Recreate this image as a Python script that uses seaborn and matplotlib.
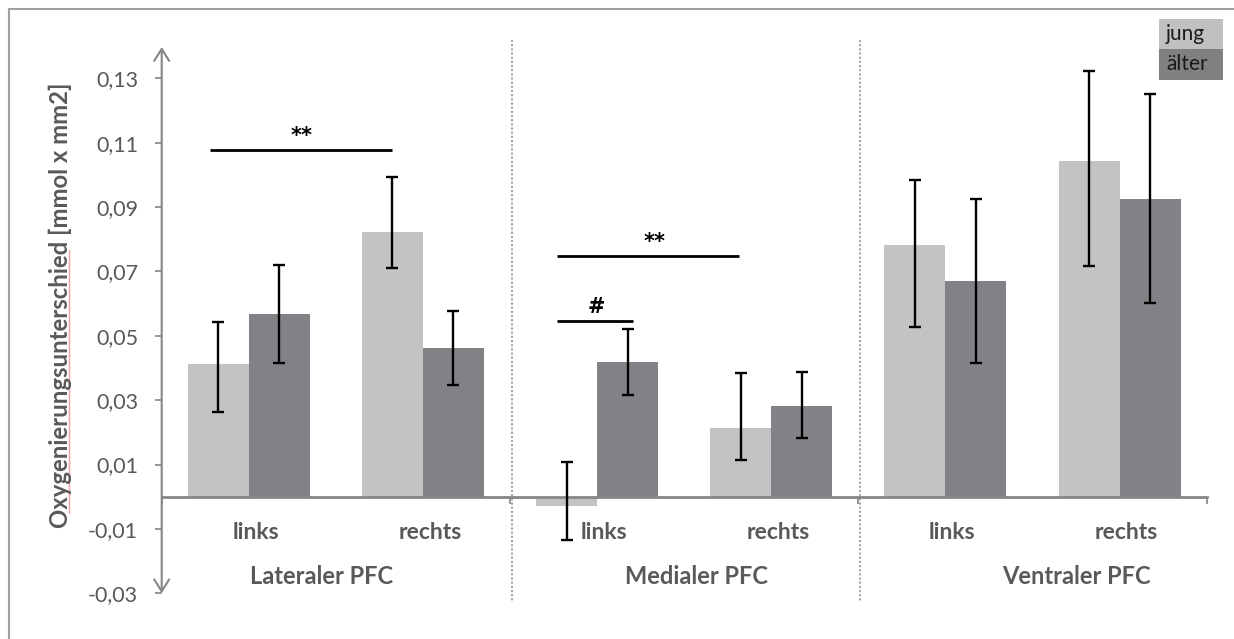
import matplotlib
matplotlib.use("Agg")
import matplotlib.pyplot as plt
from matplotlib.patches import Rectangle
from matplotlib.lines import Line2D
from matplotlib.ticker import FixedLocator, FuncFormatter
import numpy as np
import pandas as pd
import seaborn as sns

# ---- data -------------------------------------------------------------
regions = ["Lateraler PFC", "Medialer PFC", "Ventraler PFC"]
sides = ["links", "rechts"]
groups = ["jung", "älter"]

jung_mean = [0.0413, 0.0823, -0.0030, 0.0215, 0.0781, 0.1042]
jung_low = [0.0262, 0.0709, -0.0134, 0.0113, 0.0527, 0.0718]
jung_high = [0.0544, 0.0993, 0.0109, 0.0384, 0.0984, 0.1324]

aelter_mean = [0.0568, 0.0462, 0.0418, 0.0283, 0.0669, 0.0925]
aelter_low = [0.0414, 0.0348, 0.0316, 0.0183, 0.0414, 0.0602]
aelter_high = [0.0720, 0.0578, 0.0522, 0.0388, 0.0924, 0.1250]

y_ticks = [-0.03, -0.01, 0.01, 0.03, 0.05, 0.07, 0.09, 0.11, 0.13]
y_label = "Oxygenierungsunterschied [mmol x mm2]"

# significance markers: (label, height)
sig_lat = ("**", 0.1077)
sig_med = ("**", 0.0747)
sig_hash = ("#", 0.0546)

# ---- styling ----------------------------------------------------------
sns.set_theme(style="white")
plt.rcParams["font.family"] = ["Lato", "DejaVu Sans"]

c_jung = "#c3c2c5"
c_aelter = "#838185"
axis_grey = "#868686"
text_grey = "#595959"

W, H = 1234, 639
fig = plt.figure(figsize=(W / 100, H / 100), dpi=100)
ax = fig.add_axes([161.7 / W, 1 - 593.3 / H, 1045 / W, (593.3 - 47) / H])

cats = [f"{r} {s}" for r in regions for s in sides]
df = pd.DataFrame({
    "Kategorie": cats * 2,
    "Gruppe": [groups[0]] * 6 + [groups[1]] * 6,
    "Wert": jung_mean + aelter_mean,
})

sns.barplot(data=df, x="Kategorie", y="Wert", hue="Gruppe", order=cats,
            hue_order=groups, palette=[c_jung, c_aelter], width=0.7, gap=0,
            errorbar=None, saturation=1, linewidth=0, legend=False, ax=ax)

# error bars at bar centres
for cont, mean, lo, hi in zip(ax.containers,
                              [jung_mean, aelter_mean],
                              [jung_low, aelter_low],
                              [jung_high, aelter_high]):
    xs = [p.get_x() + p.get_width() / 2 for p in cont]
    m = np.array(mean)
    yerr = np.vstack([m - np.array(lo), np.array(hi) - m])
    ax.errorbar(xs, m, yerr=yerr, fmt="none", ecolor="black",
                elinewidth=1.7, capsize=4, capthick=1.7, zorder=5)

ymin, ymax = -0.03, 0.1397
ax.set_xlim(-0.5, 5.5)
ax.set_ylim(ymin, ymax)

# y axis
ax.yaxis.set_major_locator(FixedLocator(y_ticks))
ax.yaxis.set_major_formatter(FuncFormatter(lambda v, _: f"{v:.2f}".replace(".", ",")))
ax.tick_params(axis="y", which="major", direction="out", length=5, width=1.2,
               color=axis_grey, labelcolor=text_grey, labelsize=15.5, pad=12, left=True)
for s in ["left", "right", "top"]:
    ax.spines[s].set_visible(False)
ax.annotate("", xy=(0, ymax), xytext=(0, ymin),
            xycoords=("axes fraction", "data"),
            arrowprops=dict(arrowstyle="<->,head_length=0.43,head_width=0.27",
                            color=axis_grey, lw=1.5, mutation_scale=20,
                            shrinkA=0, shrinkB=0), annotation_clip=False)

# x axis at zero
ax.spines["bottom"].set_position(("data", 0))
ax.spines["bottom"].set_color(axis_grey)
ax.spines["bottom"].set_linewidth(2)
ax.set_xticks([-0.5, 1.5, 3.5, 5.5])
ax.set_xticklabels([])
ax.tick_params(axis="x", direction="out", length=5, width=1.2, color=axis_grey, bottom=True)
ax.set_xlabel("")
ax.set_ylabel("")

for i, c in enumerate(cats):
    side = c.split(" ")[-1]
    ax.text(i + 0.04, -0.011, side, ha="center", va="center", fontsize=16.5,
            fontweight="bold", color=text_grey)

group_shift = [-0.08, 0.07, 0.25]
for g, (r, dx) in enumerate(zip(regions, group_shift)):
    ax.text(2 * g + 0.5 + dx, -0.0248, r, ha="center", va="center", fontsize=17,
            fontweight="bold", color=text_grey)

# dotted separators between regions
for xb in [1.5, 3.5]:
    ax.add_line(Line2D([xb + 0.012, xb + 0.012], [0.1419, -0.0325], color="#a6a6a6",
                       linestyle=(0, (1, 1)), lw=1.5, clip_on=False, zorder=0))

# significance brackets
def bracket(x0, x1, y, label, tx):
    ax.plot([x0, x1], [y, y], color="black", lw=2, solid_capstyle="butt", zorder=6)
    ax.text(tx, y + 0.0012, label, ha="center", va="bottom", fontsize=15,
            fontweight="bold", color="black", family=["DejaVu Sans"])

bracket(-0.223, 0.820, sig_lat[1], sig_lat[0], 0.304)
bracket(1.769, 2.814, sig_med[1], sig_med[0], 2.332)
bracket(1.769, 2.204, sig_hash[1], sig_hash[0], 1.997)

# y label with spell-check underline
fig.text(60 / W, 1 - 305 / H, y_label, rotation=90, ha="center", va="center",
         fontsize=17.2, fontweight="bold", color=text_grey)
fig.add_artist(Line2D([68.5 / W, 68.5 / W], [1 - 250 / H, 1 - 513 / H],
                      color="#f3a3a3", lw=1, transform=fig.transFigure))

# legend boxes
for k, (g, col) in enumerate(zip(groups, ["#c0c0c0", "#808080"])):
    y0 = 19 + k * 30.5
    fig.add_artist(Rectangle((1159 / W, 1 - (y0 + 30.5) / H), 63.7 / W, 30.5 / H,
                             transform=fig.transFigure, facecolor=col, edgecolor="none"))
    fig.text(1166 / W, 1 - (y0 + 15) / H, g, ha="left", va="center",
             fontsize=15, color="#1a1a1a")

# outer frame (top and left edges)
fig.add_artist(Line2D([9 / W, 1.0], [1 - 9 / H, 1 - 9 / H], color="#a0a0a0", lw=1.5,
                      transform=fig.transFigure))
fig.add_artist(Line2D([9 / W, 9 / W], [1 - 9 / H, 0], color="#a0a0a0", lw=1.5,
                      transform=fig.transFigure))

fig.savefig("out.png", dpi=100)
